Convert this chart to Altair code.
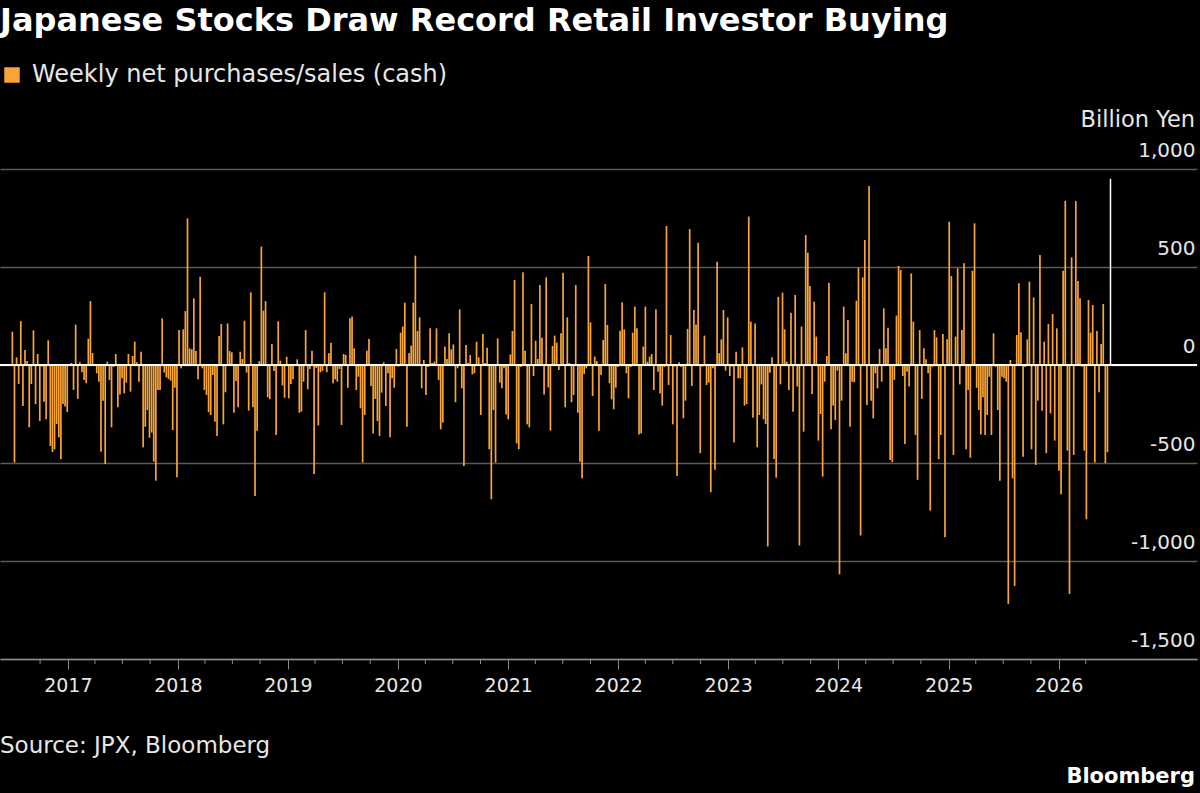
import altair as alt
import pandas as pd

TITLE = "Japanese Stocks Draw Record Retail Investor Buying"
SERIES = "Weekly net purchases/sales (cash)"
UNIT = "Billion Yen"
SOURCE = "Source: JPX, Bloomberg"
BRAND = "Bloomberg"

FIRST_WEEK = "2016-07-01"   # weekly, week ending Friday

# Weekly net purchases (+) / sales (-), billion yen
seg_2016_17 = [170, -498, 39, -97, 224, -209, 76, 20, -318, -97, 177, -200, 56, -286, -8, -187,
               -277, 126, -413, -444, -430, -301, -369, -481, -199, -212, -240, 5, 10, -127, 206,
               -173, 14, -37, -76, -93, 134, 326, 61, 5, -42, -85, -442, -182]
seg_2017_18 = [-505, 17, -76, -318, -10, 56, -216, -150, -68, -145, -90, 56, -136, 46, 119, 14,
               -85, 68, -420, -315, -230, -371, -345, -493, -590, -128, -128, 238, -39, -63, -71,
               -80, -332, -116, -573, 178, -17, 182, 275, 748, 85, 80, 340, 71, -73, 450, -17, -128]
seg_2018_19 = [-153, -241, -255, -51, -289, -362, 148, 209, -303, -139, 212, 71, 65, -243, -82,
               -216, 68, 31, 226, -39, -233, 371, -216, -668, -335, 20, 604, 277, 326, -165, -175,
               107, -31, -357, 223, 22, -104, -167, 42, -170, -97, -73, -5, 29, -243, -238, -85]
seg_2019_20 = [178, -124, -20, 73, -556, -15, -309, -37, -30, 371, -37, 60, 114, -93, -73, -85,
               -20, -306, 56, 51, -116, 238, 247, 85, -128, -60, -221, -498, -255, 73, 133, -107,
               -349, -173, -286, -362, -141, 14, -209, -42, -369, -68, -116, 82, -8, 165, 196]
seg_2020_21 = [318, -315, 60, 99, 318, 558, 173, 243, -119, 26, -153, -10, 187, 10, 17, 187, -76,
               -328, -294, 94, 31, 162, 80, 105, -190, -17, 284, -119, -515, 102, 12, 51, -48, -42,
               119, 39, -255, 158, 10, 88, -430, -685, -230, -498, 136, -90, -119]
seg_2021_22 = [-17, -252, -277, 54, 173, 434, -400, -430, -10, 473, 73, -303, -318, 311, -56, 124,
               31, 408, 139, -150, 447, -114, -335, 97, 150, 114, -26, 162, 471, -216, 243, 10,
               -190, -153, 408, -243, -493, -578, -46, -17, 556, 218, -158, 43, 20, -335, -51, 128]
seg_2022_23 = [413, 204, -93, -175, -226, -116, -10, 175, 320, 182, -42, -170, -10, 165, 298, 187,
               -354, -349, 94, 298, 17, 43, 56, -128, 284, -34, -145, -207, -10, 709, -102, 153,
               -303, -8, -566, 14, -10, -272, -182, 184, 694, -107, 281, 206, 624, -450, -8]
seg_2023_24 = [150, -102, -90, -649, -17, -535, 527, 60, 131, 281, -29, 243, -56, -8, -396, 68,
               -68, -68, 90, -207, -199, 757, 221, -269, 212, -420, -255, -99, -277, -301, -926,
               -39, 39, -479, -575, 348, -99, 369, 182, 17, -128, 267, -238, 357, -110, -921, 196, -340]
seg_2024_25 = [663, 573, 403, -148, 323, 145, -386, -250, -570, -85, 46, 420, -328, -207, -281,
               -29, -1068, -182, 298, 60, 230, -315, -85, -88, 328, 496, -870, 447, 638, -204, 913,
               -182, -272, -42, -119, 82, -85, 289, 85, 190, -485, -496, -76, 252, 505, 485, -56]
seg_2025 = [-403, -34, -110, 467, 221, -357, -586, 178, -173, 85, 29, -42, -743, -10, 178, 141,
            -481, -357, 158, -879, 131, 731, 454, -459, 145, 493, -99, 178, 519, -430, -128, -473,
            481, 723, -116, -230, -354, -165, -357, -255, -60, -357, 162, -10, -230, -590, -60]
seg_2025_26 = [-68, -85, -1219, 26, -578, -1127, 153, 417, 167, -468, -10, 131, 425, -430, 345,
               -510, -182, 561, -233, 119, -450, 209, -247, 260, -386, 187, -539, -660, 481, 838,
               -437, -1168, 549, -459, 836, 428, 340, -8, -437, -787, 331, 165, 306, -498, 173,
               -139, 107, 311, -501, -445]
latest_record = 950   # latest week, highlighted

values = (seg_2016_17 + seg_2017_18 + seg_2018_19 + seg_2019_20 + seg_2020_21 + seg_2021_22
          + seg_2022_23 + seg_2023_24 + seg_2024_25 + seg_2025 + seg_2025_26)

year_ticks = [f"{y}-01-01" for y in range(2017, 2027)]
quarter_ticks = ["2016-10-01"] + [f"{y}-{m:02d}-01" for y in range(2017, 2027) for m in (4, 7, 10)
                                  if not (y == 2026 and m > 4)]
y_ticks = [-1500, -1000, -500, 0, 500, 1000]

weeks = pd.date_range(FIRST_WEEK, periods=len(values) + 1, freq="7D")
df = pd.DataFrame({"week": weeks[:-1], "value": values, "series": SERIES})
df_latest = pd.DataFrame({"week": [weeks[-1] + pd.Timedelta(days=3)], "value": [latest_record]})
df_q = pd.DataFrame({"q": pd.to_datetime(quarter_ticks)})

ORANGE = "#f9a437"
W, H = 1197, 490
FONT = "DejaVu Sans"

xscale = alt.Scale(domain=["2016-05-21", "2027-04-05"], padding=0)
yscale = alt.Scale(domain=[-1500, 1000], nice=False)

xaxis = alt.Axis(values=year_ticks, format="%Y", title=None, grid=False, labelFontSize=19,
                 labelColor="#e6e6e6", labelFont=FONT, tickSize=10, tickColor="#8a8a8a",
                 tickWidth=1, domainColor="#8a8a8a", domainWidth=1.5, labelPadding=7,
                 labelFlush=False, labelOverlap=False)
yaxis = alt.Axis(values=y_ticks, orient="right", title=None, grid=True, gridColor="#5a5a5a",
                 gridWidth=1.5, domain=False, ticks=False, tickSize=0, labelAlign="right",
                 labelPadding=-2, labelBaseline="alphabetic", labelOffset=-13, labelFontSize=20,
                 labelColor="#e6e6e6", labelFont=FONT,
                 labelExpr="replace(format(datum.value, ','), '\u2212', '-')")

bars = alt.Chart(df).mark_bar(size=1.7).encode(
    x=alt.X("week:T", scale=xscale, axis=xaxis),
    y=alt.Y("value:Q", scale=yscale, axis=yaxis),
    color=alt.Color("series:N", scale=alt.Scale(range=[ORANGE]),
                    legend=alt.Legend(title=None, orient="none", legendX=0, legendY=-106,
                                      padding=0, symbolType="square", symbolSize=240,
                                      symbolStrokeWidth=0, symbolOpacity=1, labelFontSize=24,
                                      labelFont=FONT, labelColor="#e6e6e6", labelOffset=8,
                                      labelLimit=0)),
)

latest_bar = alt.Chart(df_latest).mark_bar(size=1.5, color="#ffffff").encode(
    x="week:T", y="value:Q"
)

zero = alt.Chart(pd.DataFrame({"z": [0]})).mark_rule(color="#ffffff", strokeWidth=2).encode(
    y="z:Q"
)

minor = alt.Chart(df_q).mark_rule(color="#8a8a8a", strokeWidth=1).encode(
    x="q:T", y=alt.value(H), y2=alt.value(H + 5)
)

def label(text, x, y, size, align="left", weight="normal", color="#e6e6e6"):
    return alt.Chart(pd.DataFrame({"t": [text]})).mark_text(
        align=align, baseline="alphabetic", fontSize=size, fontWeight=weight,
        font=FONT, color=color
    ).encode(text="t:N", x=alt.value(x), y=alt.value(y))

title = label(TITLE, 0, -138, 32, weight="bold", color="#ffffff")
unit = label(UNIT, W - 2, -42, 22.5, align="right")
source = label(SOURCE, 0, 584, 23)
brand = label(BRAND, W - 2, 614, 21, align="right", weight="bold", color="#ffffff")

chart = alt.layer(bars, latest_bar, zero, minor, title, unit, source, brand).properties(
    width=W, height=H,
    autosize=alt.AutoSizeParams(type="none"),
    padding={"left": 0, "top": 169, "right": 3, "bottom": 134},
    background="#000000",
).configure_view(stroke=None)

chart.save("out.html", embed_options={"renderer": "svg", "actions": False})
